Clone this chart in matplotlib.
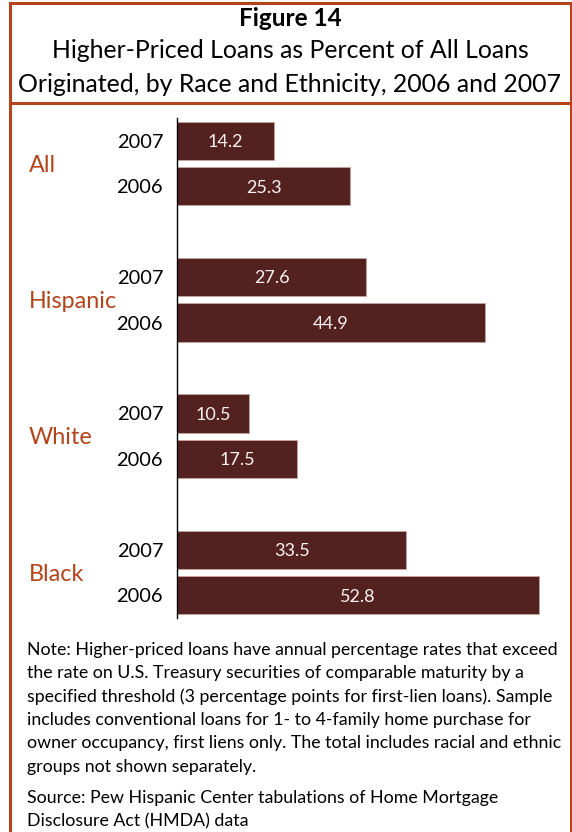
import matplotlib
matplotlib.use("Agg")

import matplotlib.pyplot as plt
import matplotlib.transforms as mtransforms
from matplotlib.patches import Rectangle
from matplotlib.lines import Line2D

plt.rcParams["font.family"] = ["Lato", "DejaVu Sans"]

groups = ["All", "Hispanic", "White", "Black"]
years = ["2007", "2006"]
values_2007 = [14.2, 27.6, 10.5, 33.5]
values_2006 = [25.3, 44.9, 17.5, 52.8]

title_lines = ["Higher-Priced Loans as Percent of All Loans",
               "Originated, by Race and Ethnicity, 2006 and 2007"]
note = ("Note: Higher-priced loans have annual percentage rates that exceed\n"
        "the rate on U.S. Treasury securities of comparable maturity by a\n"
        "specified threshold (3 percentage points for first-lien loans). Sample\n"
        "includes conventional loans for 1- to 4-family home purchase for\n"
        "owner occupancy, first liens only. The total includes racial and ethnic\n"
        "groups not shown separately.")
source = ("Source: Pew Hispanic Center tabulations of Home Mortgage\n"
          "Disclosure Act (HMDA) data")

BAR = "#532220"
RUST = "#b3441c"
W, H = 572, 832

fig = plt.figure(figsize=(W / 100, H / 100), dpi=100)


def px(x, y):
    return x / W, 1 - y / H


# frame: outer box and divider under title
frame = Rectangle(px(10, 836), 561 / W, 833 / H, transform=fig.transFigure,
                  fill=False, edgecolor=RUST, linewidth=2.2, clip_on=False)
fig.add_artist(frame)
fig.add_artist(Line2D([10 / W, 571 / W], [1 - 103 / H] * 2,
                      transform=fig.transFigure, color=RUST, linewidth=2.2))

# title
fig.text(*px(290, 19), "Figure 14", ha="center", va="center",
         fontsize=17.5, fontweight="bold")
fig.text(*px(290, 51), title_lines[0], ha="center", va="center", fontsize=17.9)
fig.text(*px(290, 84), title_lines[1], ha="center", va="center", fontsize=17.9)

# bars
ax = fig.add_axes([177 / W, 1 - 618 / H, 383 / W, 500 / H])
pos_2007 = [i * 3 for i in range(len(groups))]
pos_2006 = [i * 3 + 1 for i in range(len(groups))]
b1 = ax.barh(pos_2007, values_2007, height=0.84, color=BAR,
             edgecolor="#c9a49c", linewidth=0.6)
b2 = ax.barh(pos_2006, values_2006, height=0.84, color=BAR,
             edgecolor="#c9a49c", linewidth=0.6)
for bars, vals in [(b1, values_2007), (b2, values_2006)]:
    for bar, v in zip(bars, vals):
        ax.text(v / 2, bar.get_y() + bar.get_height() / 2 + 0.03, f"{v:.1f}",
                ha="center", va="center", color="#fbf3ee", fontsize=13)

ax.set_xlim(0, 383 / 6.85)
ax.set_ylim(10.5, -0.5)
ax.set_yticks(pos_2007 + pos_2006)
ax.set_yticklabels([years[0]] * 4 + [years[1]] * 4, fontsize=14.4)
ax.tick_params(axis="y", length=0, pad=10)
ax.set_xticks([])
for s in ["top", "right", "bottom"]:
    ax.spines[s].set_visible(False)
ax.spines["left"].set_linewidth(1.0)

trans = mtransforms.blended_transform_factory(fig.transFigure, ax.transData)
for i, g in enumerate(groups):
    fig.text(29 / W, i * 3 + 0.54, g, transform=trans, ha="left",
             va="center", color=RUST, fontsize=16.8)

# note and source
fig.text(27 / W, 1 - 642 / H, note, ha="left", va="top", fontsize=12.8,
         linespacing=1.55)
fig.text(27 / W, 1 - 790 / H, source, ha="left", va="top", fontsize=12.8,
         linespacing=1.55)

fig.savefig("out.png", dpi=100)
plt.close(fig)
